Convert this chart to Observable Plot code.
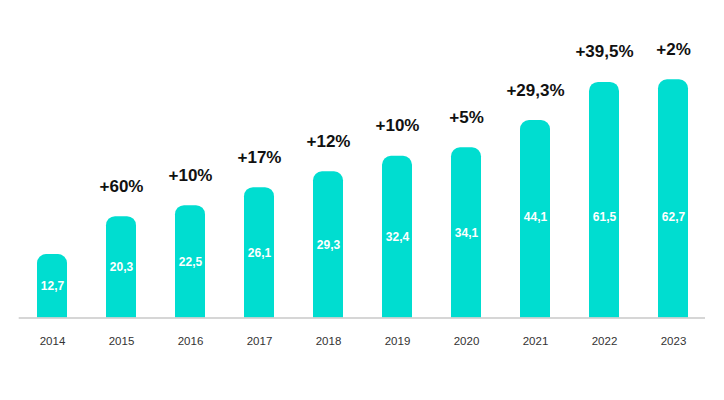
<!DOCTYPE html>
<html><head><meta charset="utf-8">
<script src="https://cdn.jsdelivr.net/npm/d3@7"></script>
<script src="https://cdn.jsdelivr.net/npm/@observablehq/plot@0.6"></script>
<style>
html,body{margin:0;padding:0;background:#fff;}
#chart{width:724px;height:400px;}
</style></head><body><div id="chart"></div>
<script>
const years = ["2014","2015","2016","2017","2018","2019","2020","2021","2022","2023"];
const values = [12.7, 20.3, 22.5, 26.1, 29.3, 32.4, 34.1, 44.1, 61.5, 62.7];
const growth = [null, "+60%", "+10%", "+17%", "+12%", "+10%", "+5%", "+29,3%", "+39,5%", "+2%"];

const data = years.map((year, i) => ({year, value: values[i], growth: growth[i]}));

const chart = Plot.plot({
  width: 724, height: 400,
  marginTop: 0, marginLeft: 18.7, marginRight: 19, marginBottom: 82.5,
  style: {fontFamily: "'Liberation Sans', Arial, Helvetica, sans-serif", background: "#fff"},
  x: {type: "band", domain: years, range: [34.7, 690.3], paddingInner: 0.559, paddingOuter: 0},
  y: {type: "linear", domain: [0, values[6], values[7], values[9]], range: [317.5, 147.3, 120, 79.3], axis: null},
  marks: [
    Plot.barY(data, {x: "year", y1: -5, y2: "value", fill: "#00DDD0", rx: 9, clip: true}),
    Plot.ruleY([0], {stroke: "#c8c8c8", strokeWidth: 1.5}),
    Plot.text(data, {x: "year", y: d => Math.min(d.value / 2, 20.3), text: d => d.value.toFixed(1).replace(".", ","), fill: "#fff", fontWeight: "bold", fontSize: 12}),
    Plot.text(data.filter(d => d.growth), {x: "year", y: "value", text: "growth", dy: -25, lineAnchor: "bottom", fontWeight: "bold", fontSize: 17, fill: "#111"}),
    Plot.axisX({tickSize: 0, tickPadding: 19, fontSize: 11.5, fill: "#333", label: null})
  ]
});
document.getElementById("chart").appendChild(chart);
</script>
</body></html>
